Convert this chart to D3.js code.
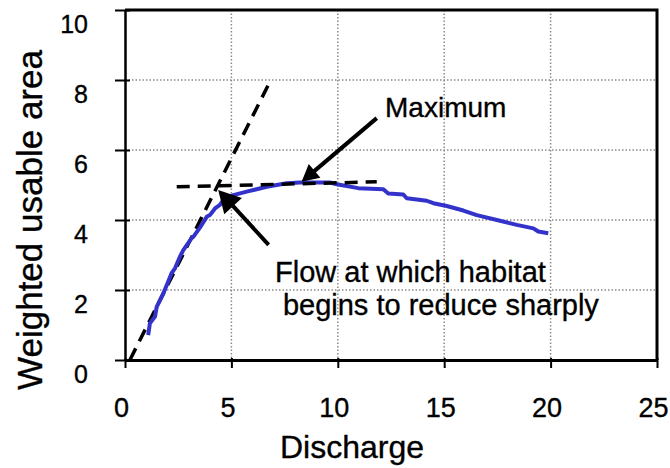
<!DOCTYPE html>
<html><head><meta charset="utf-8">
<script src="https://cdn.jsdelivr.net/npm/d3@7"></script>
<style>html,body{margin:0;padding:0;background:#fff;} svg{display:block;font-family:Arial,"Liberation Sans",sans-serif;} text{stroke:#000;stroke-width:0.35px;}</style>
</head><body>
<script>
// ---- data ----
const xTicks = [0, 5, 10, 15, 20, 25];
const yTicks = [0, 2, 4, 6, 8, 10];
const curveX = [1.09,1.17,1.41,1.49,1.80,2.19,2.35,2.58,2.74,3.13,3.21,3.52,3.84,3.99,4.23,4.46,4.62,5.09,5.72,6.66,7.60,8.22,9.63,9.95,10.96,12.14,12.37,13.08,13.24,14.18,14.49,15.12,15.90,16.53,17.62,18.41,19.19,19.42,19.89];
const curveY = [0.71,1.05,1.24,1.52,1.90,2.48,2.62,2.95,3.14,3.48,3.52,3.78,4.09,4.14,4.33,4.43,4.57,4.71,4.81,4.95,5.05,5.07,5.07,5.02,4.91,4.88,4.76,4.73,4.62,4.55,4.48,4.40,4.27,4.14,3.98,3.86,3.76,3.67,3.62];
const steepLine = [[0.23, 0], [6.81, 7.95]];
const flatLine = [[2.43, 4.95], [11.83, 5.09]];
const arrowMax = [[11.83, 6.91], [8.30, 5.09]];
const arrowFlow = [[6.75, 3.29], [4.38, 4.86]];
const xTitle = "Discharge";
const yTitle = "Weighted usable area";
const labelMax = "Maximum";
const labelFlow = ["Flow at which habitat", "begins to reduce sharply"];

// ---- drawing ----
const W = 670, H = 468;
const x = d3.scaleLinear().domain([0, 25]).range([125, 657]);
const y = d3.scaleLinear().domain([0, 10]).range([360, 10]);
const svg = d3.select("body").append("svg").attr("width", W).attr("height", H);
svg.append("rect").attr("width", W).attr("height", H).attr("fill", "#fff");

// grid
const grid = svg.append("g").attr("stroke", "#8a8a8a").attr("stroke-width", 1.5).attr("stroke-dasharray", "1.5,2");
grid.selectAll(".gx").data(xTicks.filter(d => d > 0 && d < 25)).join("line")
  .attr("x1", d => x(d)).attr("x2", d => x(d)).attr("y1", y(10)).attr("y2", y(0));
grid.selectAll(".gy").data(yTicks.filter(d => d > 0 && d < 10)).join("line")
  .attr("x1", x(0)).attr("x2", x(25)).attr("y1", d => y(d)).attr("y2", d => y(d));

// frame (top & right)
svg.append("path").attr("d", `M${x(0)},${y(10)}H${x(25)}V${y(0)}`)
  .attr("fill", "none").attr("stroke", "#000").attr("stroke-width", 3);

// axes
const xAxis = svg.append("g").attr("transform", `translate(0,${y(0)})`)
  .call(d3.axisBottom(x).tickValues(xTicks).tickSizeInner(8).tickSizeOuter(0).tickFormat(d3.format("d")));
xAxis.select(".domain").attr("stroke-width", 3);
xAxis.selectAll(".tick line").attr("stroke-width", 2).attr("y1", -2);
xAxis.selectAll(".tick text").attr("font-size", 27).attr("font-family", "Arial, 'Liberation Sans', sans-serif")
  .attr("fill", "#000").attr("dy", 0).attr("y", 57).attr("dx", -4);

const yAxis = svg.append("g").attr("transform", `translate(${x(0)},0)`)
  .call(d3.axisLeft(y).tickValues(yTicks).tickSizeInner(10).tickSizeOuter(0).tickFormat(d3.format("d")));
yAxis.select(".domain").attr("stroke-width", 2.5);
yAxis.selectAll(".tick line").attr("stroke-width", 2).attr("x2", 5).attr("x1", -10);
yAxis.selectAll(".tick text").attr("font-size", 25).attr("font-family", "Arial, 'Liberation Sans', sans-serif")
  .attr("fill", "#000").attr("x", -37).attr("dy", 0).attr("y", 22);

// dashed tangent lines
const line = d3.line().x(d => x(d[0])).y(d => y(d[1]));
svg.append("path").attr("d", line(steepLine)).attr("fill", "none").attr("stroke", "#000")
  .attr("stroke-width", 3.5).attr("stroke-dasharray", "13,8");

// blue curve
const pts = curveX.map((v, i) => [v, curveY[i]]);
svg.append("path").attr("d", line(pts)).attr("fill", "none")
  .attr("stroke", "#3333cc").attr("stroke-width", 4).attr("stroke-linejoin", "round");

// flat dashed line over curve
svg.append("path").attr("d", line(flatLine)).attr("fill", "none").attr("stroke", "#000")
  .attr("stroke-width", 3.5).attr("stroke-dasharray", "13,8");

// arrows
function arrow(a, headLen, headW) {
  const x1 = x(a[0][0]), y1 = y(a[0][1]), x2 = x(a[1][0]), y2 = y(a[1][1]);
  const ang = Math.atan2(y2 - y1, x2 - x1);
  const bx = x2 - headLen * Math.cos(ang), by = y2 - headLen * Math.sin(ang);
  svg.append("line").attr("x1", x1).attr("y1", y1).attr("x2", bx + 2 * Math.cos(ang)).attr("y2", by + 2 * Math.sin(ang))
    .attr("stroke", "#000").attr("stroke-width", 4);
  const px = -Math.sin(ang) * headW / 2, py = Math.cos(ang) * headW / 2;
  svg.append("path").attr("d", `M${x2},${y2}L${bx + px},${by + py}L${bx - px},${by - py}Z`).attr("fill", "#000");
}
arrow(arrowMax, 17, 18);
arrow(arrowFlow, 22, 24);

// annotation text
svg.append("text").attr("x", x(12.22)).attr("y", y(6.95)).attr("font-size", 28).attr("fill", "#000").text(labelMax);
svg.append("text").attr("x", x(7.05)).attr("y", y(2.23)).attr("font-size", 29).attr("fill", "#000").text(labelFlow[0]);
svg.append("text").attr("x", x(7.42)).attr("y", y(1.29)).attr("font-size", 29).attr("fill", "#000").text(labelFlow[1]);

// axis titles
svg.append("text").attr("x", 280).attr("y", 458).attr("font-size", 32).attr("fill", "#000").text(xTitle);
svg.append("text").attr("transform", "translate(42,220) rotate(-90)").attr("text-anchor", "middle")
  .attr("font-size", 35).attr("fill", "#000").text(yTitle);
</script>
</body></html>
